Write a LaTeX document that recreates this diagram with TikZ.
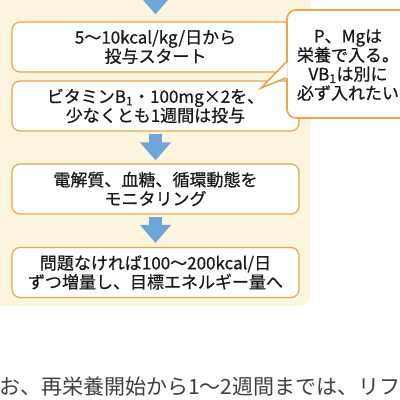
\documentclass[tikz,border=0pt]{standalone}
\usepackage{fontspec}
\setmainfont{Noto Sans CJK JP}
\newfontfamily\boxfont{Noto Sans CJK JP}[FakeBold=0.6]
\usepackage{tikz}
\usetikzlibrary{arrows.meta, positioning}
\definecolor{myorange}{RGB}{234,164,74}
\definecolor{mycream}{RGB}{252,244,222}
\definecolor{myblue}{RGB}{111,166,217}
\definecolor{mytext}{RGB}{25,25,25}
\definecolor{mygray}{RGB}{62,62,62}
\tikzset{
  stepbox/.style={rectangle, draw=myorange, fill=white,
    minimum width=287pt, minimum height=50pt, align=center,
    font=\boxfont\fontsize{17}{19}\selectfont, text=mytext,
    rounded corners=8pt, line width=1.2pt},
  notebox/.style={rectangle, draw=myorange, fill=white,
    minimum width=125pt, minimum height=108pt,
    rounded corners=9pt, line width=1.6pt},
  notetext/.style={align=center, inner sep=0pt,
    font=\boxfont\fontsize{17}{19}\selectfont, text=mytext},
  noteline/.style={draw=myorange, line width=1.6pt, line join=miter},
  flowarrow/.style={myblue, line width=13pt, -{Triangle[width=30pt, length=18pt]}}
}

\begin{document}
\begin{tikzpicture}[x=1pt, y=-1pt]
  \useasboundingbox (0,0) rectangle (400,400);

  % Background panel
  \fill[mycream, rounded corners=10pt] (-12,-12) rectangle (310,306);

  % Flow boxes
  \node[stepbox] (start) at (155.5,47)  {5〜10kcal/kg/日から\\投与スタート};
  \node[stepbox] (vitb)  at (155.5,106) {ビタミンB\textsubscript{1}・100mg×2を、\\少なくとも1週間は投与};
  \node[stepbox] (mon)   at (155.5,189) {電解質、血糖、循環動態を\\モニタリング};
  \node[stepbox] (inc)   at (155.5,272.5) {問題なければ100〜200kcal/日\\ずつ増量し、目標エネルギー量へ};

  % Flow arrows
  \coordinate (top) at (155.5,-30);
  \draw[flowarrow, shorten >=7pt] (top) -- (start);
  \draw[flowarrow, shorten <=2pt, shorten >=3pt] (vitb) -- (mon);
  \draw[flowarrow, shorten <=2pt, shorten >=4pt] (mon) -- (inc);

  % Callout
  \node[notebox] (note) at (349.5,64) {};
  \node[notetext] (notetxt) at (348,65) {P、Mgは\\栄養で入る。\\VB\textsubscript{1}は別に\\必ず入れたい};
  \coordinate (tip) at (261,88);
  \fill[white] ([xshift=1.5pt, yshift=2pt]note.west) -- (tip) -- ([xshift=1.5pt, yshift=-14pt]note.west) -- cycle;
  \draw[noteline] ([yshift=2pt]note.west) -- (tip) -- ([yshift=-14pt]note.west);

  % Running text below
  \node[anchor=west, inner sep=0pt, font=\fontsize{21}{21}\selectfont, text=mygray] (body) at (-1,387) {お、再栄養開始から1〜2週間までは、リフ};
\end{tikzpicture}
\end{document}
